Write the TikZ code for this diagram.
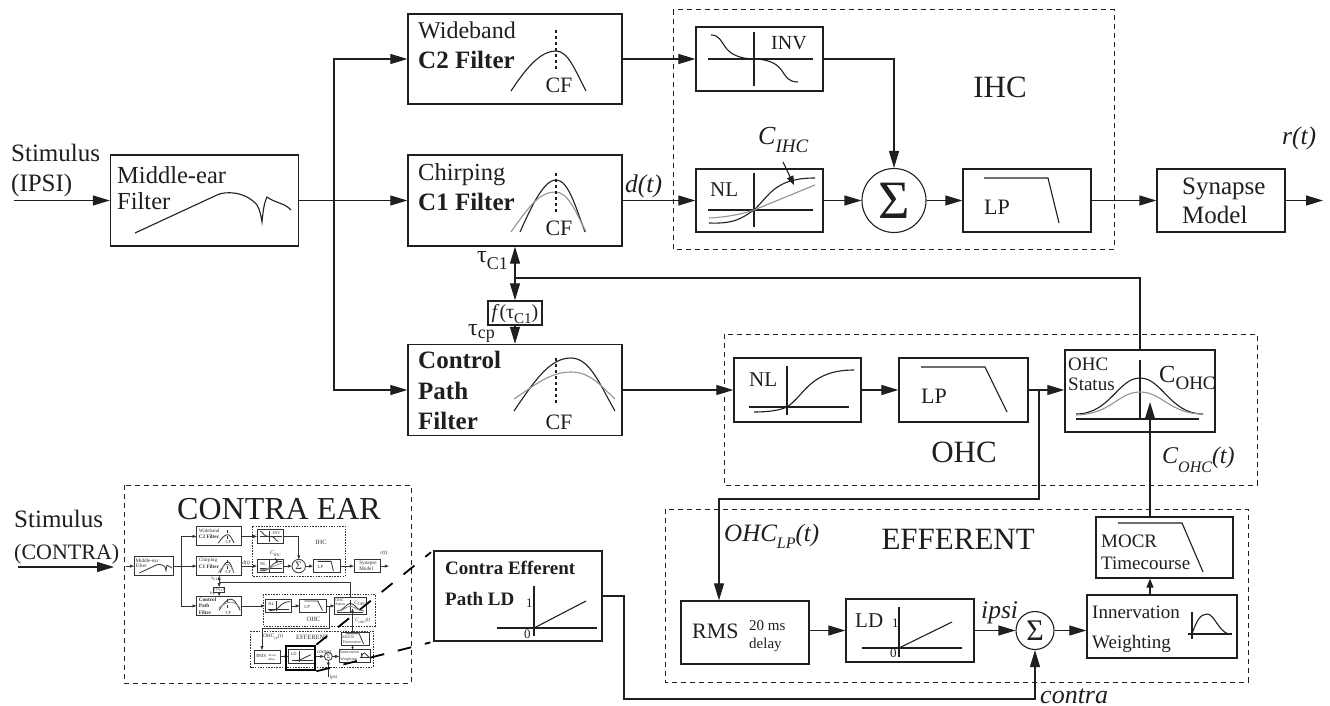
\documentclass[tikz,border=0pt]{standalone}
\usepackage{fontspec}
\setmainfont{Liberation Serif}
\usetikzlibrary{arrows.meta,positioning}
\newcommand{\fsz}[1]{\fontsize{#1}{#1}\selectfont}
\newcommand{\lowsub}[3]{\raisebox{-#1pt}{\fsz{#2}#3}}
\def\inkcol{black!88}
\def\boxw{1.3pt}
\def\wirew{1.1pt}
\def\dashw{1pt}
\def\dashon{5pt}
\def\dashoff{4pt}
\def\tipl{17pt}
\def\tipw{10pt}
\def\stubl{9pt}
\def\stubw{7pt}
\tikzset{
  blk/.style 2 args={draw=\inkcol,line width=\boxw,minimum width=#1pt,minimum height=#2pt,inner sep=0pt},
  sumc/.style={circle,draw=\inkcol,line width=\wirew,minimum size=#1pt,inner sep=0pt,text=\inkcol},
  wire/.style={draw=\inkcol,line width=\wirew},
  arr/.style={wire,-{Triangle[length=\tipl,width=\tipw]}},
  stub/.style={wire,-{Triangle[length=\stubl,width=\stubw]}},
  crv/.style={draw=\inkcol,line width=\wirew},
  graycrv/.style={draw=gray!85,line width=\wirew},
  dashln/.style={draw=\inkcol,line width=\wirew,dash pattern=on 3pt off 3pt},
  dashbox/.style={draw=\inkcol,line width=\dashw,dash pattern=on \dashon off \dashoff},
  txt/.style={anchor=base west,inner sep=0pt,text=\inkcol,font=\fsz{24.5}},
  boldtxt/.style={txt,font=\fsz{25}\bfseries},
  itxt/.style={txt,font=\fsz{25.5}\itshape},
  cftxt/.style={anchor=base,inner sep=0pt,text=\inkcol,font=\fsz{22}},
  smalltxt/.style={txt,font=\fsz{19}},
  bigtxt/.style={anchor=base,inner sep=0pt,text=\inkcol,font=\fsz{31}},
  zoomln/.style={draw=black,line width=1.8pt,dash pattern=on 14pt off 14pt},
}
\newcommand{\earmodel}[1]{
  \draw[dashbox] (673,10) rectangle (1114,249);
  \draw[dashbox] (724,334) rectangle (1257,485);
  \draw[dashbox] (665,509) rectangle (1248,682);
  \node[blk={188}{91}] (mid) at (204.5,200.5) {};
  \node[blk={214}{90}] (wide) at (515,59) {};
  \node[blk={214}{91}] (chirp) at (515,200.5) {};
  \node[blk={214}{91}] (ctrl) at (515,390) {};
  \node[blk={127}{64}] (inv) at (759.5,59) {};
  \node[blk={127}{63}] (nlihc) at (759.5,200.5) {};
  \node[sumc=64] (sumihc) at (894,200.5) {\fsz{54}Σ};
  \node[blk={128}{63}] (lpihc) at (1027,200.5) {};
  \node[blk={128}{63}] (syn) at (1221,200.5) {};
  \node[blk={54}{24}] (fbox) at (515,313) {};
  \node[blk={127}{64}] (nlohc) at (797.5,390) {};
  \node[blk={129}{64}] (lpohc) at (963.5,390) {};
  \node[blk={150}{82}] (stat) at (1140,391) {};
  \node[blk={128}{63}] (rms) at (745,632.5) {};
  \node[blk={128}{63}] (ld) at (910,630.5) {};
  \node[sumc=38] (sumeff) at (1035,630.5) {\fsz{30}Σ};
  \node[blk={150}{63}] (inn) at (1162,626.5) {};
  \node[blk={137}{61}] (mocr) at (1164.5,547.5) {};
  \coordinate (split) at (334,200.5);
  \coordinate (fb) at (515,278);
  \coordinate (ohctap) at (1039,390);
  \coordinate (rmsin) at (719,499);
  \coordinate (tap) at (1150,0);
  \coordinate (statin) at (1150,402);
  \coordinate (synout) at (1323,200.5);
  \draw[arr] (mid.east) -- (chirp.west);
  \draw[arr] (split) |- (wide.west);
  \draw[arr] (split) |- (ctrl.west);
  \draw[arr] (wide.east) -- (inv.west);
  \draw[arr] (chirp.east) -- (nlihc.west);
  \draw[arr] (nlihc.east) -- (sumihc.west);
  \draw[arr] (inv.east) -| (sumihc.north);
  \draw[arr] (sumihc.east) -- (lpihc.west);
  \draw[arr] (lpihc.east) -- (syn.west);
  \draw[arr] (syn.east) -- (synout);
  \draw[wire] (stat.north) |- (fb);
  \draw[arr] (fb) -- (chirp.south);
  \draw[arr] (fb) -- (fbox.north);
  \draw[arr] (fbox.south) -- (ctrl.north);
  \draw[arr] (ctrl.east) -- (nlohc.west);
  \draw[arr] (nlohc.east) -- (lpohc.west);
  \draw[arr] (lpohc.east) -- (stat.west |- lpohc.east);
  \draw[arr] (ohctap) |- (rmsin) -- (rmsin |- rms.north);
  \draw[arr] (rms.east |- ld.west) -- (ld.west);
  \draw[arr] (ld.east) -- (sumeff.west);
  \draw[arr] (sumeff.east) -- (sumeff.east -| inn.west);
  \draw[stub] (tap |- inn.north) -- (tap |- mocr.south);
  \draw[arr] (tap |- mocr.north) -- (statin);
  \draw[crv] (135,233) -- (217,195) .. controls (225,191) and (245,191) .. (257,205) .. controls (260,210) and (261,216) .. (262,222) .. controls (263,212) and (264,203) .. (267,197) .. controls (275,203) and (285,203) .. (291,210);
  \draw[crv] (511,91) .. controls (530,62) and (543,51) .. (556,51) .. controls (568,51) and (575,70) .. (586,91);
  \draw[dashln] (556,30) -- (556,72);
  \draw[crv] (520,232) .. controls (530,210) and (543,180) .. (556,180) .. controls (568,180) and (575,205) .. (585,232);
  \draw[graycrv] (511,232) .. controls (530,205) and (540,192) .. (555,192) .. controls (568,192) and (575,210) .. (586,232);
  \draw[dashln] (556,173) -- (556,215);
  \draw[crv] (514,411) .. controls (535,380) and (550,358) .. (571,358) .. controls (590,358) and (600,385) .. (615,411);
  \draw[graycrv] (514,399) .. controls (535,385) and (550,372) .. (571,372) .. controls (590,372) and (600,385) .. (615,399);
  \draw[dashln] (556,358) -- (556,405);
  \draw[crv] (708,59) -- (813,59);
  \draw[crv] (754,32) -- (754,86);
  \draw[crv] (711,35) .. controls (727,35) and (718,58) .. (754,59) .. controls (790,60) and (778,82) .. (798,82);
  \draw[crv] (708,210) -- (813,210);
  \draw[crv] (754,173) -- (754,227);
  \draw[crv] (709,223) .. controls (735,224) and (742,218) .. (754,210) .. controls (770,195) and (775,178) .. (815,178);
  \draw[graycrv] (709,218) .. controls (730,217) and (745,213) .. (754,210) -- (815,185);
  \draw[crv] (984,178) -- (1048,178) -- (1059,223);
  \draw[crv] (749,407) -- (849,407);
  \draw[crv] (787,366) -- (787,415);
  \draw[crv] (754,412) .. controls (770,412) and (780,410) .. (787,407) .. controls (805,395) and (810,370) .. (854,370);
  \draw[crv] (921,367) -- (985,367) -- (1007,412);
  \draw[crv] (1076,419) -- (1199,419);
  \draw[crv] (1140,360) -- (1140,419);
  \draw[crv] (1076,414) .. controls (1110,414) and (1118,378) .. (1140,378) .. controls (1162,378) and (1170,414) .. (1203,414);
  \draw[graycrv] (1076,415) .. controls (1112,414) and (1118,392) .. (1140,392) .. controls (1162,392) and (1170,414) .. (1203,414);
  \draw[crv] (862,648) -- (962,648);
  \draw[crv] (899,607) -- (899,657);
  \draw[crv] (899,648) -- (952,622);
  \draw[crv] (1118,523) -- (1182,523) -- (1203,572);
  \draw[crv] (1188,634) -- (1232,634);
  \draw[crv] (1192,612) -- (1192,639);
  \draw[crv] (1192,634) .. controls (1196,622) and (1200,614) .. (1207,614) .. controls (1214,614) and (1218,630) .. (1228,634);
  \coordinate (cihcfrom) at (783,162);
  \coordinate (cihcto) at (794,185);
  \draw[stub] (cihcfrom) -- (cihcto);
  \node[txt] (midA) at (117,183) {Middle-ear};
  \node[txt] (midB) at (117,209) {Filter};
  \node[txt,font=\fsz{24}] (wideA) at (418,39) {Wideband};
  \node[boldtxt] (wideB) at (418,69) {C2 Filter};
  \node[cftxt] (wideCF) at (559,93) {CF};
  \node[txt] (chirpA) at (418,180) {Chirping};
  \node[boldtxt] (chirpB) at (418,210) {C1 Filter};
  \node[cftxt] (chirpCF) at (559,235) {CF};
  \node[boldtxt] (ctrlA) at (418,368) {Control};
  \node[boldtxt] (ctrlB) at (418,399) {Path};
  \node[boldtxt] (ctrlC) at (418,429) {Filter};
  \node[cftxt] (ctrlCF) at (559,429) {CF};
  \node[itxt] (dt) at (625,192) {d(t)};
  \node[txt,font=\fsz{24}] (tauC) at (477,262) {τ\lowsub{7}{18}{C1}};
  \node[txt,font=\fsz{24}] (tauP) at (468,335) {τ\lowsub{3}{18}{cp}};
  \node[anchor=base,inner sep=0pt,text=\inkcol,font=\fsz{20}] (ftau) at (fbox.center |- 0,318) {\textit{f}(τ\lowsub{5}{15}{C1})};
  \node[txt,font=\fsz{20}] (invT) at (771,50) {INV};
  \node[txt,font=\fsz{21}] (nlA) at (710,196) {NL};
  \node[txt,font=\fsz{26}\itshape] (cihc) at (758,144) {C\lowsub{9}{19}{IHC}};
  \node[bigtxt] (ihcT) at (1000,98) {IHC};
  \node[txt,font=\fsz{22}] (lpA) at (984,214) {LP};
  \node[txt,font=\fsz{25}] (synA) at (1182,194) {Synapse};
  \node[txt,font=\fsz{25}] (synB) at (1182,223) {Model};
  \node[itxt] (rt) at (1282,144) {r(t)};
  \node[txt,font=\fsz{21}] (nlB) at (749,386) {NL};
  \node[txt,font=\fsz{22}] (lpB) at (921,403) {LP};
  \node[smalltxt] (statA) at (1068,370) {OHC};
  \node[smalltxt] (statB) at (1068,390) {Status};
  \node[txt] (cohc) at (1159,382) {C\lowsub{7}{19}{OHC}};
  \node[bigtxt] (ohcT) at (964,462) {OHC};
  \node[txt,font=\fsz{24}\itshape] (cohct) at (1162,463) {C\lowsub{9}{16}{OHC}(t)};
  \node[anchor=base east,inner sep=0pt,text=\inkcol,font=\fsz{31}] (effT) at (1035,549) {EFFERENT};
  \node[txt,font=\fsz{25}\itshape] (ohclp) at (724,541) {OHC\lowsub{7}{16}{LP}(t)};
  \node[txt,font=\fsz{22}] (rmsT) at (692,638) {RMS};
  \node[txt,font=\fsz{15}] (delA) at (749,630) {20 ms};
  \node[txt,font=\fsz{15}] (delB) at (749,648) {delay};
  \node[txt,font=\fsz{21}] (ldT) at (855,627) {LD};
  \node[txt,font=\fsz{13}] (ldone) at (892,627) {1};
  \node[txt,font=\fsz{13}] (ldzero) at (890,657) {0};
  \node[itxt] (toplab) at (981,618) {#1};
  \node[smalltxt] (mocrA) at (1101,547) {MOCR};
  \node[smalltxt] (mocrB) at (1101,569) {Timecourse};
  \node[smalltxt] (innA) at (1092,618) {Innervation};
  \node[smalltxt] (innB) at (1092,648) {Weighting};
}
\begin{document}
\begin{tikzpicture}[x=1pt,y=-1pt]
  \useasboundingbox[fill=white] (0,0) rectangle (1330,706);
  \earmodel{ipsi}
  \coordinate (stimin) at (14,200.5);
  \draw[arr] (stimin) -- (mid.west);
  \node[txt,font=\fsz{25}] (stimA) at (11,161) {Stimulus};
  \node[txt,font=\fsz{25}] (stimB) at (11,191) {(IPSI)};
  \node[blk={168}{90}] (contra) at (518,596) {};
  \node[txt,font=\fsz{19}\bfseries] (contraA) at (445,574) {Contra Efferent};
  \node[txt,font=\fsz{19}\bfseries] (contraB) at (445,605) {Path LD};
  \draw[crv] (497,628) -- (597,628);
  \draw[crv] (534,586) -- (534,636);
  \draw[crv] (534,628) -- (586,601);
  \node[txt,font=\fsz{13}] (contraone) at (526,607) {1};
  \node[txt,font=\fsz{13}] (contrazero) at (524,638) {0};
  \coordinate (cturn) at (624,699);
  \draw[arr] (contra.east) -| (cturn) -| (sumeff.south);
  \node[txt,font=\fsz{26}\itshape] (contraT) at (1040,703) {contra};
  \draw[dashbox] (124,485) rectangle (411,683);
  \node[anchor=base,inner sep=0pt,text=\inkcol,font=\fsz{32}] (earT) at (279,519) {CONTRA EAR};
  \node[txt,font=\fsz{25}] (stimC) at (14,527) {Stimulus};
  \node[txt,font=\fsz{22}] (stimD) at (14,559) {(CONTRA)};
  \coordinate (stimcin) at (18,567);
  \coordinate (stimcto) at (114,567);
  \draw[arr] (stimcin) -- (stimcto);
  \begin{scope}[shift={(111,524)},scale=.21,transform shape,name prefix=mini-]
    \def\inkcol{black!80}
    \def\boxw{.9pt}
    \def\wirew{.8pt}
    \def\dashw{.7pt}
    \def\dashon{1.5pt}
    \def\dashoff{1.2pt}
    \def\tipl{4pt}
    \def\tipw{2.8pt}
    \def\stubl{2.5pt}
    \def\stubw{2pt}
    \earmodel{contra}
    \coordinate (midin) at (71,200.5);
    \coordinate (ipsiin) at (1035,729);
    \draw[arr] (midin) -- (mid.west);
    \draw[arr] (ipsiin) -- (sumeff.south);
    \node[txt,font=\fsz{24}\itshape] (ipsiT) at (1042,735) {ipsi};
  \end{scope}
  \node[draw=black,line width=2.6pt,minimum width=29pt,minimum height=24pt,inner sep=0pt] (boldld) at (300.5,658) {};
  \draw[zoomln,shorten >=3pt] (boldld.north east) -- (contra.north west);
  \draw[zoomln,shorten >=3pt] (boldld.south east) -- (contra.south west);
\end{tikzpicture}
\end{document}
